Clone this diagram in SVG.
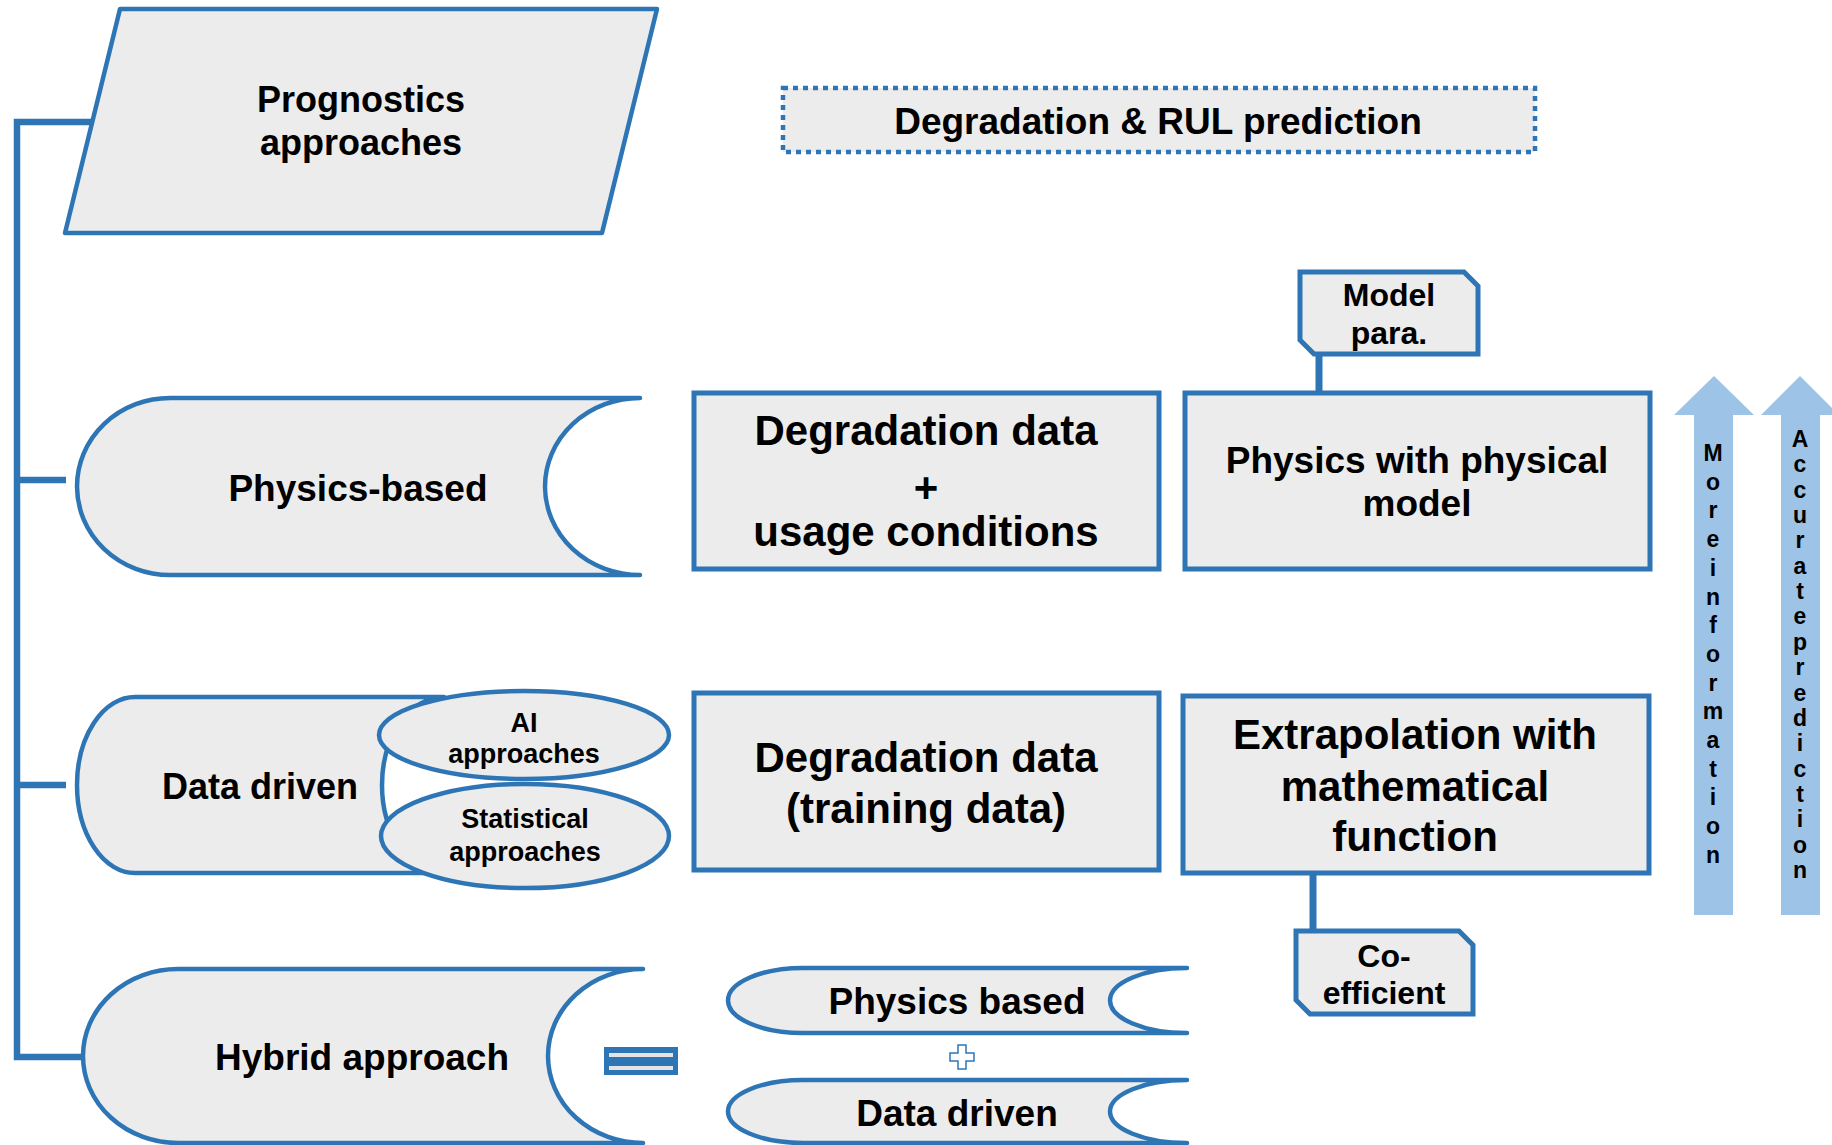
<svg xmlns="http://www.w3.org/2000/svg" width="1832" height="1145" viewBox="0 0 1832 1145">
  <style>
    .shape { fill: #ececec; stroke: #2e75b6; stroke-width: 4.5; stroke-linejoin: round; stroke-linecap: round; }
    .box { fill: #ececec; stroke: #2e75b6; stroke-width: 5; stroke-linejoin: miter; }
    .dotted { fill: #ececec; stroke: #2e75b6; stroke-width: 4.5; stroke-dasharray: 5 5; }
    .link { fill: none; stroke: #2e75b6; stroke-width: 6.5; stroke-linejoin: miter; }
    .arrow { fill: #9dc3e6; stroke: none; }
    text { font-family: "Liberation Sans", Arial, sans-serif; font-weight: bold; fill: #000; text-anchor: middle; }
    .t36 { font-size: 36px; }
    .t37 { font-size: 37px; }
    .t42 { font-size: 42px; }
    .t32 { font-size: 32px; }
    .t27 { font-size: 27px; }
    .t23 { font-size: 23px; }
  </style>

  <!-- connectors -->
  <g id="connectors">
    <path class="link" d="M94,122 H17 V1057 H84"/>
    <path class="link" d="M17,480 H66"/>
    <path class="link" d="M17,785 H66"/>
    <path class="link" d="M1319,354 V393" style="stroke-width:7"/>
    <path class="link" d="M1313,873 V932" style="stroke-width:7"/>
  </g>

  <!-- root: prognostics approaches -->
  <g id="prognostics">
    <polygon class="shape" points="120,9 657,9 602,233 65,233"/>
    <text class="t36" x="361" y="112">Prognostics</text>
    <text class="t36" x="361" y="155">approaches</text>
  </g>

  <g id="rul-prediction">
    <rect class="dotted" x="783" y="88" width="752" height="64"/>
    <text class="t37" x="1158" y="134">Degradation &amp; RUL prediction</text>
  </g>

  <!-- physics-based row -->
  <g id="physics-based">
    <path class="shape" d="M170,398 H640 A95,88.5 0 0 0 640,575 H170 A93,88.5 0 0 1 170,398 Z"/>
    <text class="t37" x="358" y="501">Physics-based</text>
  </g>

  <g id="degradation-usage">
    <rect class="box" x="694" y="393" width="465" height="176"/>
    <text class="t42" x="926" y="445">Degradation data</text>
    <text class="t42" x="926" y="502">+</text>
    <text class="t42" x="926" y="546">usage conditions</text>
  </g>

  <g id="physical-model">
    <rect class="box" x="1185" y="393" width="465" height="176"/>
    <text class="t37" x="1417" y="473">Physics with physical</text>
    <text class="t37" x="1417" y="516">model</text>
  </g>

  <g id="model-para">
    <path class="box" d="M1300,272 H1464 L1478,286 V354 H1314 L1300,340 Z"/>
    <text class="t32" x="1389" y="306">Model</text>
    <text class="t32" x="1389" y="344">para.</text>
  </g>

  <!-- data-driven row -->
  <g id="data-driven">
    <path class="shape" d="M135,697 H444 A62,88 0 0 0 444,873 H135 A58,88 0 0 1 135,697 Z"/>
    <text class="t36" x="260" y="799">Data driven</text>
  </g>

  <g id="ai-approaches">
    <ellipse class="shape" cx="524" cy="735" rx="145" ry="44"/>
    <text class="t27" x="524" y="732">AI</text>
    <text class="t27" x="524" y="763">approaches</text>
  </g>

  <g id="statistical-approaches">
    <ellipse class="shape" cx="525" cy="836" rx="144" ry="52"/>
    <text class="t27" x="525" y="828">Statistical</text>
    <text class="t27" x="525" y="861">approaches</text>
  </g>

  <g id="training-data">
    <rect class="box" x="694" y="693" width="465" height="177"/>
    <text class="t42" x="926" y="772">Degradation data</text>
    <text class="t42" x="926" y="823">(training data)</text>
  </g>

  <g id="extrapolation">
    <rect class="box" x="1183" y="696" width="466" height="177"/>
    <text class="t42" x="1415" y="749">Extrapolation with</text>
    <text class="t42" x="1415" y="801">mathematical</text>
    <text class="t42" x="1415" y="851">function</text>
  </g>

  <g id="coefficient">
    <path class="box" d="M1296,931 H1459 L1473,945 V1014 H1310 L1296,1000 Z"/>
    <text class="t32" x="1384" y="967">Co-</text>
    <text class="t32" x="1384" y="1004">efficient</text>
  </g>

  <!-- hybrid row -->
  <g id="hybrid">
    <path class="shape" d="M178,969 H643 A95,87 0 0 0 643,1143 H178 A95,87 0 0 1 178,969 Z"/>
    <text class="t37" x="362" y="1070">Hybrid approach</text>
  </g>

  <g id="equals-sign">
    <rect x="604" y="1047" width="74" height="28" fill="#2e75b6"/>
    <line x1="609" y1="1055" x2="673" y2="1055" stroke="#e4e4e4" stroke-width="4"/>
    <line x1="609" y1="1068" x2="673" y2="1068" stroke="#e4e4e4" stroke-width="4"/>
  </g>

  <g id="hybrid-physics">
    <path class="shape" d="M803,968 H1187 A77,32.5 0 0 0 1187,1033 H803 A75,32.5 0 0 1 803,968 Z"/>
    <text class="t37" x="957" y="1014">Physics based</text>
  </g>

  <g id="plus-sign">
    <path d="M958,1045 h8 v8 h8 v8 h-8 v8 h-8 v-8 h-8 v-8 h8 Z" fill="#ffffff" stroke="#2e75b6" stroke-width="1.5"/>
  </g>

  <g id="hybrid-data">
    <path class="shape" d="M803,1080 H1187 A77,31.5 0 0 0 1187,1143 H803 A75,31.5 0 0 1 803,1080 Z"/>
    <text class="t37" x="957" y="1126">Data driven</text>
  </g>

  <!-- trend arrows -->
  <g id="more-information">
    <polygon class="arrow" points="1714,376 1754,415 1733,415 1733,915 1694,915 1694,415 1674,415"/>
    <text class="t23"
      x="1713 1713 1713 1713 1713 1713 1713 1713 1713 1713 1713 1713 1713 1713 1713"
      y="461 489.7 518.4 547.1 575.8 604.5 633.2 661.9 690.6 719.3 748 776.7 805.4 834.1 862.8">Moreinformation</text>
  </g>

  <g id="accurate-prediction">
    <polygon class="arrow" points="1800,376 1839,415 1820,415 1820,915 1781,915 1781,415 1761,415"/>
    <text class="t23"
      x="1800 1800 1800 1800 1800 1800 1800 1800 1800 1800 1800 1800 1800 1800 1800 1800 1800 1800"
      y="447 472.35 497.7 523.05 548.4 573.75 599.1 624.45 649.8 675.15 700.5 725.85 751.2 776.55 801.9 827.25 852.6 877.95">Accurateprediction</text>
  </g>
</svg>
